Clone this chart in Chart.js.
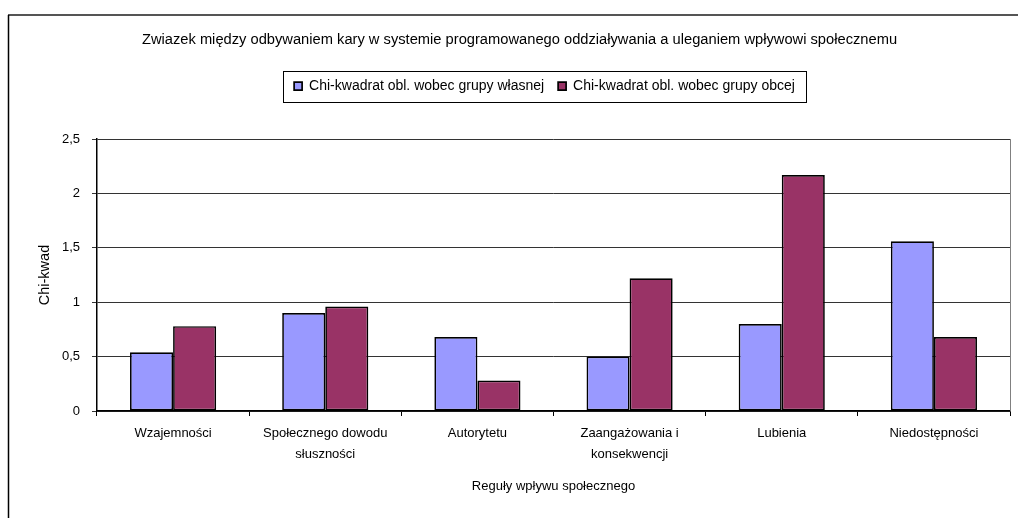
<!DOCTYPE html>
<html>
<head>
<meta charset="utf-8">
<script src="https://cdn.jsdelivr.net/npm/chart.js@4/dist/chart.umd.min.js"></script>
<style>
  html, body { margin: 0; padding: 0; background: #fff; }
  #wrap { width: 1018px; height: 518px; position: relative; }
</style>
</head>
<body>
<div id="wrap"><canvas id="chart"></canvas></div>
<script>
// Dane
const categories = [
    ["Wzajemności"],
    ["Społecznego dowodu", "słuszności"],
    ["Autorytetu"],
    ["Zaangażowania i", "konsekwencji"],
    ["Lubienia"],
    ["Niedostępności"]
];
const ownGroup = [0.54, 0.90, 0.68, 0.50, 0.80, 1.56];
const otherGroup = [0.78, 0.96, 0.28, 1.22, 2.17, 0.68];
const yTickLabels = ["0", "0,5", "1", "1,5", "2", "2,5"];

const seriesNames = ["Chi-kwadrat obl. wobec grupy własnej", "Chi-kwadrat obl. wobec grupy obcej"];
const chartTitle = "Zwiazek między odbywaniem kary w systemie programowanego oddziaływania a uleganiem wpływowi społecznemu";

const FONT = "'Liberation Sans', Arial, sans-serif";

// Ramka, obramowanie legendy i przesunięcia tytułu/legendy
const framePlugin = {
    id: "frame",
    afterLayout(chart) {
        const t = chart.titleBlock;
        const dt = 519.5 - (t.left + t.right) / 2;
        t.left += dt; t.right += dt;
        const lg = chart.legend;
        const dl = 544.5 - (lg.left + lg.right) / 2;
        lg.left += dl; lg.right += dl;
        lg.top -= 36; lg.bottom -= 36;
    },
    afterDraw(chart) {
        const ctx = chart.ctx;
        const area = chart.chartArea;
        ctx.save();
        // prawa krawędź obszaru wykresu
        ctx.strokeStyle = "#808080";
        ctx.lineWidth = 1;
        ctx.beginPath();
        ctx.moveTo(area.right + 0.5, area.top);
        ctx.lineTo(area.right + 0.5, area.bottom);
        ctx.stroke();
        // ramka legendy
        const boxes = chart.legend.legendHitBoxes;
        if (boxes.length) {
            const x0 = Math.min(...boxes.map(b => b.left)) - 11;
            const x1 = Math.max(...boxes.map(b => b.left + b.width)) + 11;
            const cy = boxes[0].top + boxes[0].height / 2;
            ctx.strokeStyle = "#000";
            ctx.lineWidth = 1;
            ctx.strokeRect(Math.round(x0) + 0.5, Math.round(cy - 15.5) + 0.5, Math.round(x1 - x0), 31);
        }
        // zewnętrzna ramka
        ctx.strokeStyle = "#555";
        ctx.lineWidth = 2;
        ctx.beginPath();
        ctx.moveTo(8, 15);
        ctx.lineTo(1018, 15);
        ctx.stroke();
        ctx.strokeStyle = "#000";
        ctx.lineWidth = 1.5;
        ctx.beginPath();
        ctx.moveTo(8.5, 15);
        ctx.lineTo(8.5, 518);
        ctx.stroke();
        ctx.restore();
    }
};

function initChart() {
    const ctx = document.getElementById("chart").getContext("2d");
    new Chart(ctx, {
        type: "bar",
        data: {
            labels: categories,
            datasets: [{
                label: seriesNames[0],
                data: ownGroup,
                backgroundColor: "#9999ff",
                borderColor: "#000",
                borderWidth: 1.7,
                borderSkipped: false,
                categoryPercentage: 0.566,
                barPercentage: 1
            }, {
                label: seriesNames[1],
                data: otherGroup,
                backgroundColor: "#993366",
                borderColor: "#000",
                borderWidth: 1.7,
                borderSkipped: false,
                categoryPercentage: 0.566,
                barPercentage: 1
            }]
        },
        options: {
            responsive: false,
            animation: false,
            devicePixelRatio: 1,
            layout: { padding: { left: 0, right: 8, top: 0, bottom: 0 } },
            plugins: {
                title: {
                    display: true,
                    text: chartTitle,
                    color: "#000",
                    font: { family: FONT, size: 14.7, weight: "normal" },
                    padding: { top: 31, bottom: 52.4 }
                },
                legend: {
                    display: true,
                    labels: {
                        color: "#000",
                        font: { family: FONT, size: 14 },
                        boxWidth: 8,
                        boxHeight: 8,
                        padding: 14
                    }
                },
                tooltip: { enabled: false }
            },
            scales: {
                x: {
                    offset: true,
                    afterFit: scale => { scale.height = 107; },
                    grid: {
                        offset: true,
                        drawOnChartArea: false,
                        color: "#000",
                        tickLength: 5
                    },
                    border: { color: "#000", width: 1.5 },
                    ticks: {
                        color: "#000",
                        padding: 7,
                        maxRotation: 0,
                        autoSkip: false,
                        font: { family: FONT, size: 13, lineHeight: 1.6 }
                    },
                    title: {
                        display: true,
                        text: "Reguły wpływu społecznego",
                        color: "#000",
                        font: { family: FONT, size: 13 },
                        padding: { top: 4, bottom: 24 }
                    }
                },
                y: {
                    min: 0,
                    max: 2.5,
                    afterFit: scale => { scale.width = 97; },
                    grid: { color: "#333", tickLength: 5 },
                    border: { color: "#000", width: 1.5 },
                    ticks: {
                        stepSize: 0.5,
                        color: "#000",
                        padding: 12,
                        font: { family: FONT, size: 13 },
                        callback: value => yTickLabels[Math.round(value / 0.5)]
                    },
                    title: {
                        display: true,
                        text: "Chi-kwad",
                        color: "#000",
                        font: { family: FONT, size: 14.5 },
                        padding: { top: 36, bottom: 4 }
                    }
                }
            }
        },
        plugins: [framePlugin]
    });
}

const cv = document.getElementById("chart");
cv.width = 1018;
cv.height = 518;
initChart();
</script>
</body>
</html>
